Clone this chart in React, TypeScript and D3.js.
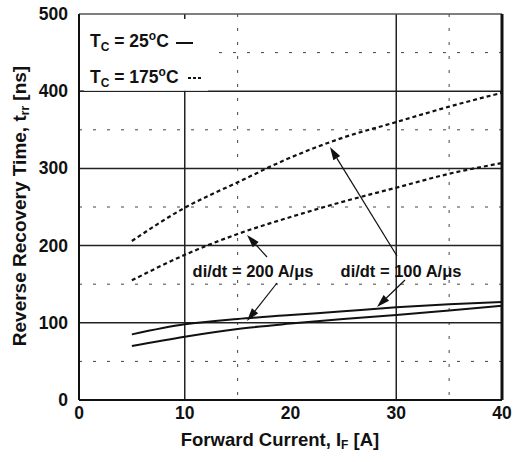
import React from "react";
import * as d3 from "d3";

const xTicks = [0, 10, 20, 30, 40];
const yTicks = [0, 100, 200, 300, 400, 500];
const xSolidGrid = [10, 30];
const xDottedGrid = [15, 35];
const ySolidGrid = [100, 200, 300, 400];
const yDottedGrid = [50, 150, 250, 350, 450];

const current = [5, 10, 15, 20, 25, 30, 35, 40];
const hot100 = [206, 249, 282, 314, 340, 360, 380, 398];
const hot200 = [155, 188, 215, 237, 257, 275, 293, 307];
const cold100 = [85, 98, 105, 110, 115, 120, 124, 127];
const cold200 = [70, 82, 92, 99, 105, 110, 116, 122];

const W = 515, H = 462;
const L = 79, R = 502, T = 14, B = 400;

export default function App() {
  const x = d3.scaleLinear().domain([0, 40]).range([L, R]);
  const y = d3.scaleLinear().domain([0, 500]).range([B, T]);
  const line = d3
    .line<[number, number]>()
    .x((d) => x(d[0]))
    .y((d) => y(d[1]))
    .curve(d3.curveMonotoneX);
  const pts = (vals: number[]) => current.map((c, i) => [c, vals[i]] as [number, number]);
  const font = "'Liberation Sans', Arial, sans-serif";
  const ink = "#111";

  const arrow = (x1: number, y1: number, x2: number, y2: number, key: string) => {
    const ang = Math.atan2(y2 - y1, x2 - x1);
    const len = 13, w = 4;
    const bx = x2 - len * Math.cos(ang), by = y2 - len * Math.sin(ang);
    const px = -Math.sin(ang) * w, py = Math.cos(ang) * w;
    return (
      <g key={key}>
        <line x1={x1} y1={y1} x2={bx} y2={by} stroke={ink} strokeWidth={1.2} />
        <path d={`M${x2},${y2}L${bx + px},${by + py}L${bx - px},${by - py}Z`} fill={ink} />
      </g>
    );
  };

  return (
    <svg width={W} height={H} style={{ position: "absolute", left: 0, top: 0, background: "#fff" }}>
      <rect width={W} height={H} fill="#fff" />
      {/* dotted grid */}
      {yDottedGrid.map((v) => (
        <line key={"yd" + v} x1={L} x2={R} y1={y(v)} y2={y(v)} stroke="#444" strokeWidth={1} strokeDasharray="3,11" />
      ))}
      {xDottedGrid.map((v) => (
        <line key={"xd" + v} x1={x(v)} x2={x(v)} y1={T} y2={B} stroke="#444" strokeWidth={1} strokeDasharray="3,11" />
      ))}
      {/* solid grid */}
      {ySolidGrid.map((v) => (
        <line key={"ys" + v} x1={L} x2={R} y1={y(v)} y2={y(v)} stroke="#222" strokeWidth={1.5} />
      ))}
      {xSolidGrid.map((v) => (
        <line key={"xs" + v} x1={x(v)} x2={x(v)} y1={T} y2={B} stroke="#222" strokeWidth={1.5} />
      ))}
      {/* legend box (white) */}
      <rect x={L + 1} y={T + 1} width={128} height={y(400) - T - 1.5} fill="#fff" />
      <line x1={x(10)} x2={x(10)} y1={T} y2={T + 5} stroke="#222" strokeWidth={1.5} />
      <line x1={L} x2={L + 5} y1={y(400)} y2={y(400)} stroke="#222" strokeWidth={1.5} />
      {/* frame */}
      <line x1={L} x2={R} y1={T} y2={T} stroke="#555" strokeWidth={1.5} />
      <line x1={L} x2={L} y1={T} y2={B} stroke={ink} strokeWidth={2} />
      <line x1={L} x2={R} y1={B} y2={B} stroke={ink} strokeWidth={2} />
      <line x1={R} x2={R} y1={T} y2={B} stroke={ink} strokeWidth={3} />
      {/* curves */}
      <path d={line(pts(hot100)) || ""} fill="none" stroke={ink} strokeWidth={2.2} strokeDasharray="4,3" />
      <path d={line(pts(hot200)) || ""} fill="none" stroke={ink} strokeWidth={2.2} strokeDasharray="4,3" />
      <path d={line(pts(cold100)) || ""} fill="none" stroke={ink} strokeWidth={2} />
      <path d={line(pts(cold200)) || ""} fill="none" stroke={ink} strokeWidth={2} />
      {/* arrows */}
      {arrow(397, 256, 330, 147, "a1")}
      {arrow(405, 280, 377, 307, "a2")}
      {arrow(267, 257, 247, 235, "a3")}
      {arrow(277, 283, 247, 321, "a4")}
      {/* annotation labels */}
      <text x={253} y={277} textAnchor="middle" fontFamily={font} fontWeight="bold" fontSize={16.5} fill={ink}>
        di/dt = 200 A/μs
      </text>
      <text x={401} y={277} textAnchor="middle" fontFamily={font} fontWeight="bold" fontSize={16.5} fill={ink}>
        di/dt = 100 A/μs
      </text>
      {/* legend */}
      <g fontFamily={font} fontWeight="bold" fontSize={17.5} fill={ink}>
        <text x={90} y={47}>
          T<tspan fontSize={12} dy={4}>C</tspan>
          <tspan dy={-4}> = 25</tspan>
          <tspan fontSize={12} dy={-7}>o</tspan>
          <tspan dy={7}>C</tspan>
        </text>
        <text x={90} y={83}>
          T<tspan fontSize={12} dy={4}>C</tspan>
          <tspan dy={-4}> = 175</tspan>
          <tspan fontSize={12} dy={-7}>o</tspan>
          <tspan dy={7}>C</tspan>
        </text>
      </g>
      <line x1={176} x2={193} y1={43} y2={43} stroke={ink} strokeWidth={2} />
      <line x1={188} x2={202} y1={78} y2={78} stroke={ink} strokeWidth={2} strokeDasharray="3,2" />
      {/* tick labels */}
      <g fontFamily={font} fontWeight="bold" fontSize={17.5} fill={ink}>
        {yTicks.map((v) => (
          <text key={"yt" + v} x={68} y={y(v) + 6} textAnchor="end">
            {v}
          </text>
        ))}
        {xTicks.map((v) => (
          <text key={"xt" + v} x={x(v)} y={419} textAnchor="middle">
            {v}
          </text>
        ))}
      </g>
      {/* axis titles */}
      <text x={280} y={446} textAnchor="middle" fontFamily={font} fontWeight="bold" fontSize={18.5} fill={ink}>
        Forward Current, I<tspan fontSize={12} dy={3}>F</tspan>
        <tspan dy={-3}> [A]</tspan>
      </text>
      <text
        transform={`translate(26,206) rotate(-90)`}
        textAnchor="middle"
        fontFamily={font}
        fontWeight="bold"
        fontSize={19}
        fill={ink}
      >
        Reverse Recovery Time, t<tspan fontSize={12} dy={3}>rr</tspan>
        <tspan dy={-3}> [ns]</tspan>
      </text>
    </svg>
  );
}
